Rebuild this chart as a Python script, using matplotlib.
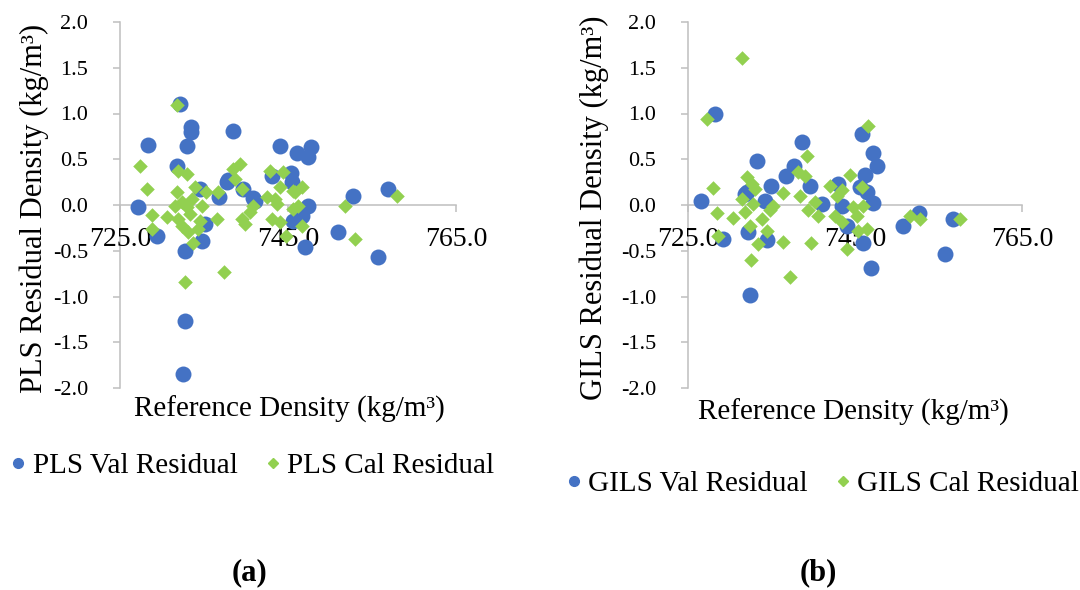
import matplotlib
matplotlib.use("Agg")
import matplotlib.pyplot as plt
from matplotlib.lines import Line2D

# ---------------- data ----------------
pls_val_x = [727.1, 728.3, 729.4, 732.1, 731.8, 733.0, 733.5, 733.4, 732.7, 732.7,
             732.5, 734.5, 734.8, 735.1, 736.8, 737.7, 738.5, 737.9, 739.6, 740.8,
             741.1, 743.1, 744.0, 745.3, 745.5, 746.1, 747.7, 747.4, 747.4, 746.7,
             745.6, 747.0, 751.0, 752.7, 756.9, 755.7]
pls_val_y = [-0.02, 0.66, -0.34, 1.10, 0.43, 0.65, 0.85, 0.80, -0.50, -1.27,
             -1.85, 0.18, -0.39, -0.21, 0.09, 0.25, 0.81, 0.27, 0.17, 0.08,
             0.04, 0.32, 0.65, 0.35, 0.25, 0.57, 0.63, 0.53, -0.01, -0.12,
             -0.17, -0.46, -0.30, 0.10, 0.18, -0.57]

pls_cal_x = [727.4, 728.2, 731.8, 731.9, 733.0, 731.8, 733.9, 735.2, 736.7, 738.5,
             739.3, 738.7, 739.5, 742.9, 744.4, 744.0, 746.7, 745.6, 758.0,
             728.8, 728.8, 730.6, 731.5, 732.4, 733.0, 731.9, 732.4, 733.3, 733.6,
             733.1, 733.7, 734.8, 734.5, 734.3, 732.7, 737.4, 736.5, 739.9, 740.5,
             740.8, 742.5, 743.5, 743.1, 744.0, 743.7, 744.8, 745.6, 746.2, 745.8,
             746.7, 751.8, 753.0, 739.5]
pls_cal_y = [0.43, 0.18, 1.09, 0.37, 0.34, 0.14, 0.20, 0.14, 0.14, 0.39,
             0.45, 0.28, 0.18, 0.37, 0.36, 0.20, 0.20, 0.15, 0.10,
             -0.11, -0.26, -0.13, -0.01, 0.03, -0.02, -0.15, -0.23, -0.10, 0.07,
             -0.30, -0.41, -0.01, -0.17, -0.26, -0.84, -0.73, -0.15, -0.21, -0.08,
             -0.01, 0.09, 0.07, -0.15, -0.19, 0.01, -0.34, -0.04, -0.01, 0.14,
             -0.23, -0.01, -0.37, -0.15]

gils_val_x = [726.6, 728.2, 729.2, 731.8, 732.2, 732.4, 733.3, 732.1, 734.2, 734.5,
              734.9, 736.7, 737.7, 738.7, 739.6, 741.0, 743.0, 743.4, 744.0, 745.6,
              745.8, 746.2, 746.4, 746.0, 746.9, 747.2, 747.6, 747.2, 750.7, 752.7,
              755.8, 756.7]
gils_val_y = [0.04, 1.00, -0.37, 0.12, -0.30, -0.98, 0.48, 0.14, 0.04, -0.38,
              0.21, 0.32, 0.43, 0.69, 0.21, 0.01, 0.23, -0.01, -0.23, 0.20,
              0.78, 0.33, 0.14, -0.41, -0.69, 0.57, 0.43, 0.02, -0.23, -0.09,
              -0.54, -0.15]

gils_cal_x = [727.3, 728.0, 728.5, 728.6, 730.4, 731.5, 731.5, 731.8, 732.1, 732.7,
              732.4, 732.6, 732.8, 733.0, 733.4, 733.9, 734.5, 734.8, 735.2, 736.4,
              736.4, 737.2, 738.2, 739.0, 739.3, 738.4, 739.4, 739.7, 740.2, 740.6,
              742.0, 742.8, 742.6, 743.4, 743.4, 744.0, 744.4, 744.8, 745.2, 745.4,
              745.8, 745.9, 746.4, 746.6, 751.6, 752.8, 757.6]
gils_cal_y = [0.94, 0.19, -0.09, -0.34, -0.14, 1.61, 0.07, -0.08, 0.31, 0.23,
              -0.23, -0.60, 0.01, 0.17, -0.43, -0.15, -0.28, -0.06, -0.01, 0.13,
              -0.40, -0.79, 0.36, 0.32, 0.54, 0.10, -0.06, -0.42, 0.03, -0.12,
              0.21, 0.10, -0.12, 0.16, -0.19, -0.48, 0.33, -0.02, -0.12, -0.28,
              0.20, -0.01, -0.26, 0.86, -0.12, -0.15, -0.15]

x_ticks = [725.0, 745.0, 765.0]
y_ticks = [-2.0, -1.5, -1.0, -0.5, 0.0, 0.5, 1.0, 1.5, 2.0]

panels = [
    dict(vx=pls_val_x, vy=pls_val_y, cx=pls_cal_x, cy=pls_cal_y,
         ylabel="PLS Residual Density (kg/m³)",
         val_label="PLS Val Residual", cal_label="PLS Cal Residual", tag="(a)"),
    dict(vx=gils_val_x, vy=gils_val_y, cx=gils_cal_x, cy=gils_cal_y,
         ylabel="GILS Residual Density (kg/m³)",
         val_label="GILS Val Residual", cal_label="GILS Cal Residual", tag="(b)"),
]

# ---------------- style ----------------
FONT = "Liberation Serif"
plt.rcParams["font.family"] = [FONT, "DejaVu Serif"]
BLUE = "#4472C4"
GREEN = "#92D050"
AXC = "#BFBFBF"

W, H = 1080, 590
fig = plt.figure(figsize=(W / 100, H / 100), dpi=100)

def fx(px):
    return px / W

def fy(py):
    return 1 - py / H

layout = [
    dict(left=120, right=456, ylab_x=34, xlab_x=289, xlab_y=409, leg_x=252, leg_y=466, tag_x=249),
    dict(left=688, right=1022, ylab_x=594, xlab_x=853, xlab_y=412, leg_x=822, leg_y=484, tag_x=818),
]
top_px, bot_px = 22, 388

for p, L in zip(panels, layout):
    ax = fig.add_axes([fx(L["left"]), fy(bot_px), (L["right"] - L["left"]) / W,
                       (bot_px - top_px) / H])
    ax.set_xlim(725, 765)
    ax.set_ylim(-2, 2)
    ax.patch.set_alpha(0)
    for s in ("top", "right"):
        ax.spines[s].set_visible(False)
    ax.spines["bottom"].set_position(("data", 0))
    for s in ("left", "bottom"):
        ax.spines[s].set_color(AXC)
        ax.spines[s].set_linewidth(1.1)
        ax.spines[s].set_zorder(0.5)
    ax.set_xticks(x_ticks)
    ax.set_xticklabels([f"{v:.1f}" for v in x_ticks])
    ax.set_yticks(y_ticks)
    ax.set_yticklabels([f"{v:.1f}".replace("−", "-") for v in y_ticks])
    ax.tick_params(axis="x", direction="out", length=5, width=1.1, color=AXC,
                   labelsize=20, pad=11)
    ax.tick_params(axis="y", direction="out", length=5, width=1.1, color=AXC,
                   labelsize=16, pad=18)
    for t in ax.get_xticklabels():
        t.set_zorder(1)

    ax.scatter(p["vx"], p["vy"], s=132, marker="o", color=BLUE, linewidths=0, zorder=3)
    ax.scatter(p["cx"], p["cy"], s=55, marker="D", color=GREEN, linewidths=0, zorder=4)

    fig.text(fx(L["ylab_x"]), fy((top_px + bot_px) / 2 + 3), p["ylabel"], rotation=90,
             ha="center", va="center", fontsize=22)
    fig.text(fx(L["xlab_x"]), fy(L["xlab_y"]), "Reference Density (kg/m³)",
             ha="center", va="center", fontsize=21)

    handles = [
        Line2D([], [], ls="none", marker="o", color=BLUE, markersize=7),
        Line2D([], [], ls="none", marker="D", color=GREEN, markersize=5),
    ]
    fig.legend(handles, [p["val_label"], p["cal_label"]], loc="center",
               bbox_to_anchor=(fx(L["leg_x"]), fy(L["leg_y"])), ncol=2,
               frameon=False, fontsize=21, handlelength=0.6, handletextpad=0.2,
               columnspacing=0.9, borderaxespad=0, borderpad=0)
    fig.text(fx(L["tag_x"]), fy(573), p["tag"], ha="center", va="center",
             fontsize=22, fontweight="bold")

fig.savefig("out.png", dpi=100)
